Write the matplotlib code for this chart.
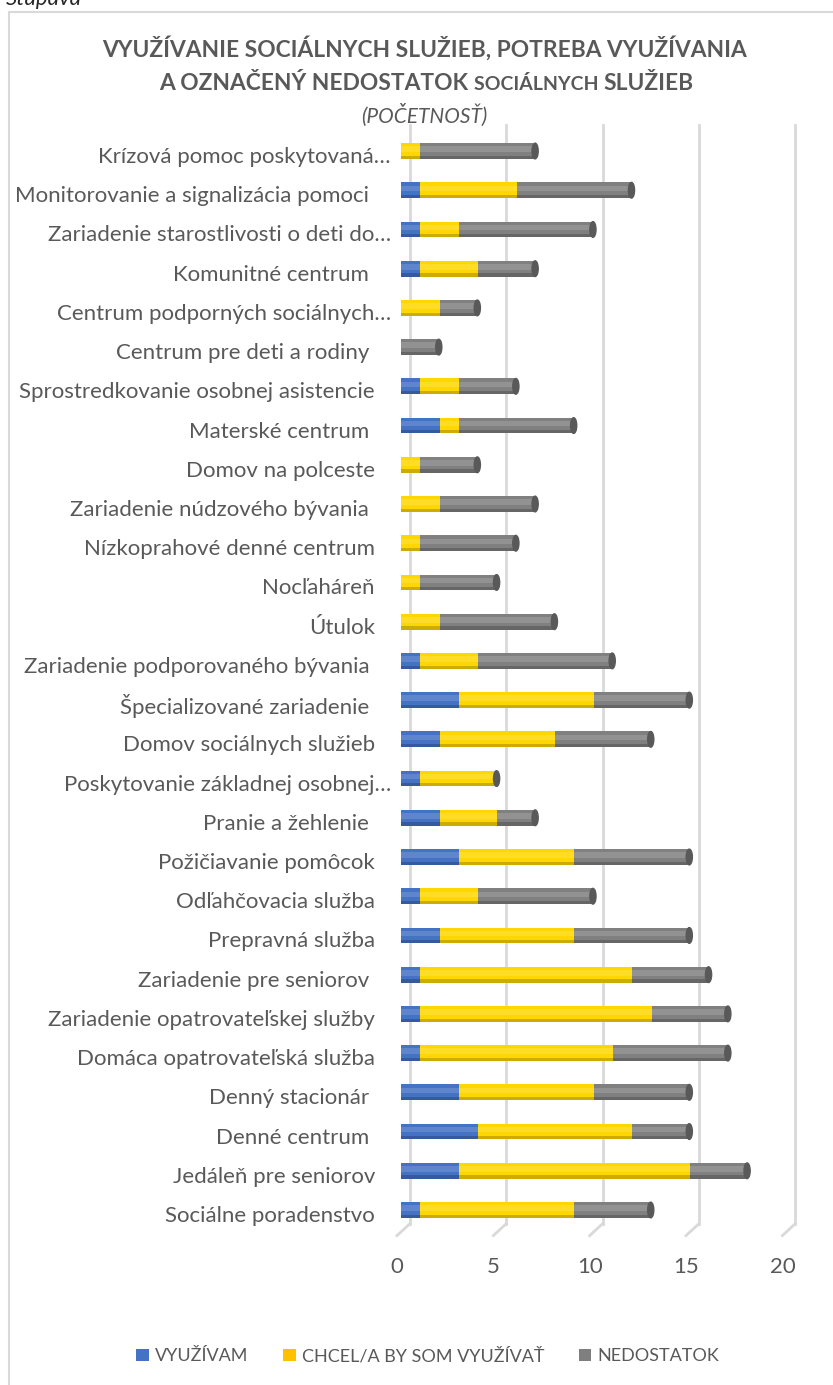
import matplotlib.pyplot as plt
import numpy as np
from matplotlib.patches import Patch, Ellipse, Rectangle
from matplotlib.transforms import ScaledTranslation

# ================= data =================
categories = [
    "Sociálne poradenstvo",
    "Jedáleň pre seniorov",
    "Denné centrum ",
    "Denný stacionár ",
    "Domáca opatrovateľská služba",
    "Zariadenie opatrovateľskej služby",
    "Zariadenie pre seniorov ",
    "Prepravná služba",
    "Odľahčovacia služba",
    "Požičiavanie pomôcok",
    "Pranie a žehlenie ",
    "Poskytovanie základnej osobnej…",
    "Domov sociálnych služieb",
    "Špecializované zariadenie ",
    "Zariadenie podporovaného bývania ",
    "Útulok",
    "Nocľaháreň",
    "Nízkoprahové denné centrum",
    "Zariadenie núdzového bývania ",
    "Domov na polceste",
    "Materské centrum ",
    "Sprostredkovanie osobnej asistencie",
    "Centrum pre deti a rodiny ",
    "Centrum podporných sociálnych…",
    "Komunitné centrum ",
    "Zariadenie starostlivosti o deti do…",
    "Monitorovanie a signalizácia pomoci ",
    "Krízová pomoc poskytovaná…",
]
vyuzivam = [1, 3, 4, 3, 1, 1, 1, 2, 1, 3, 2, 1, 2, 3, 1, 0, 0, 0, 0, 0, 2, 1, 0, 0, 1, 1, 1, 0]
chcel = [8, 12, 8, 7, 10, 12, 11, 7, 3, 6, 3, 4, 6, 7, 3, 2, 1, 1, 2, 1, 1, 2, 0, 2, 3, 2, 5, 1]
nedostatok = [4, 3, 3, 5, 6, 4, 4, 6, 6, 6, 2, 0, 5, 5, 7, 6, 4, 5, 5, 3, 6, 3, 2, 2, 3, 7, 6, 6]

series_names = ["VYUŽÍVAM", "CHCEL/A BY SOM VYUŽÍVAŤ", "NEDOSTATOK"]
x_ticks = [0, 5, 10, 15, 20]

# ================= style =================
COLORS = ["#4472C4", "#FFD700", "#808080"]
LEG_COLORS = ["#4472C4", "#FFC000", "#7F7F7F"]
TXT = "#595959"
FONT = "Lato"
W, H = 833, 1385
DPI = 100

fig = plt.figure(figsize=(W / DPI, H / DPI), dpi=DPI)
plt.rcParams['font.family'] = [FONT, 'DejaVu Sans']

def px(dx, dy):
    return ScaledTranslation(dx / DPI, dy / DPI, fig.dpi_scale_trans)

# chart border
fig.patches.append(Rectangle((9 / W, -0.02), 1.05, 1 - 12 / H + 0.02, transform=fig.transFigure,
                             fill=False, edgecolor="#D9D9D9", linewidth=1.5))
fig.text(6 / W, 1 - 5 / H, "Stupava", fontsize=16, style="italic", color="#262626",
         ha="left", va="baseline")

# axes placed at the front plane of the bars
ax_left, ax_right = 401, 786.4
ax_top, ax_bot = 131.4, 1229.6
ax = fig.add_axes([ax_left / W, 1 - ax_bot / H, (ax_right - ax_left) / W, (ax_bot - ax_top) / H])
ax.set_xlim(0, 20)
ax.set_ylim(-0.5, len(categories) - 0.5)
ax.axis("off")

# gridlines on the back wall + floor diagonals
for t in x_ticks:
    ax.plot([t, t], [0, 1], transform=ax.get_xaxis_transform() + px(9, 6),
            color="#D9D9D9", lw=2, clip_on=False, zorder=0)
    ax.plot([t, t - 13 / 19.27], [0, -12 / (ax_bot - ax_top)],
            transform=ax.get_xaxis_transform() + px(9, 6),
            color="#D9D9D9", lw=2, clip_on=False, zorder=0)
    ax.text(t, 0, str(t), transform=ax.get_xaxis_transform() + px(-4, -37),
            ha="center", va="center", fontsize=16, color=TXT)

# stacked cylinders
y = np.arange(len(categories))
h = 0.40
data = [np.array(vyuzivam), np.array(chcel), np.array(nedostatok)]
left = np.zeros(len(categories))
for vals, c in zip(data, COLORS):
    ax.barh(y, vals, left=left, height=h, color=c, edgecolor="none", zorder=2)
    # highlight and shade to suggest a cylinder
    ax.barh(y + h * 0.12, vals, left=left, height=h * 0.35, color="white", alpha=0.15,
            edgecolor="none", zorder=3)
    ax.barh(y - h * 0.40, vals, left=left, height=h * 0.20, color="black", alpha=0.2,
            edgecolor="none", zorder=3)
    left += vals
for yi, tot in zip(y, left):
    ax.add_patch(Ellipse((tot - 0.04, yi), 0.32, h, color="#595959", zorder=4))

# category labels
for yi, lab in zip(y, categories):
    dx = -10 if lab.endswith("…") else -26
    ax.text(0, yi, lab, transform=ax.get_yaxis_transform() + px(dx, -6),
            ha="right", va="center", fontsize=16, color=TXT)

# title
fig.text(424 / W, 1 - 48.5 / H, "VYUŽÍVANIE SOCIÁLNYCH SLUŽIEB, POTREBA VYUŽÍVANIA",
         ha="center", va="center", fontsize=16.4, fontweight="bold", color=TXT)
fig.canvas.draw()
r = fig.canvas.get_renderer()
parts = [("A OZNAČENÝ NEDOSTATOK ", 16.4), ("SOCIÁLNYCH ", 14), ("SLUŽIEB", 16.4)]
objs = [fig.text(0, 0, s, fontsize=fs, fontweight="bold", color=TXT,
                 ha="left", va="baseline") for s, fs in parts]
widths = [o.get_window_extent(r).width for o in objs]
xs = 426 - sum(widths) / 2
for o, wd in zip(objs, widths):
    o.set_position((xs / W, 1 - 90 / H))
    xs += wd
fig.text(424 / W, 1 - 115 / H, "(POČETNOSŤ)", ha="center", va="center",
         fontsize=15, style="italic", color=TXT)

# legend
handles = [Patch(facecolor=c, edgecolor="none") for c in LEG_COLORS]
fig.legend(handles, series_names, loc="center", bbox_to_anchor=(428 / W, 1 - 1356 / H), ncol=3,
           frameon=False, fontsize=13, labelcolor=TXT, handlelength=0.7, handleheight=0.7,
           handletextpad=0.35, columnspacing=1.9)

fig.savefig("out.png", dpi=DPI)
